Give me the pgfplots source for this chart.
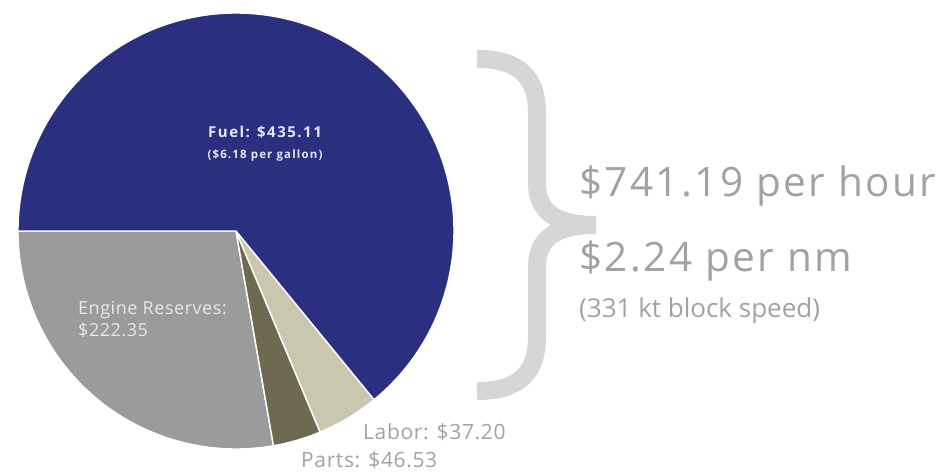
\documentclass[border=0pt]{standalone}
\usepackage{fontspec}
\setmainfont{Open Sans}
\newfontfamily\bigfont[LetterSpace=6]{Open Sans}
\newfontfamily\pielabfont[LetterSpace=10]{Open Sans}
\newfontfamily\labfont[LetterSpace=3]{Open Sans}
\usepackage{pgfplots}
\usepackage{pgfplotstable}
\pgfplotsset{compat=1.18}

\definecolor{fuelc}{HTML}{2B2F7F}
\definecolor{enginec}{HTML}{9B9B9B}
\definecolor{partsc}{HTML}{6D6A50}
\definecolor{laborc}{HTML}{C9C8AF}
\definecolor{bracec}{HTML}{D6D6D6}
\definecolor{textc}{HTML}{A2A2A2}
\definecolor{inlabel}{HTML}{E6E6EE}

% hourly cost per slice; span = wedge angle as drawn (degrees)
\pgfplotstableread{
slice   cost    span
Engine  222.35  99.9
Parts   46.53   12.8
Labor   37.20   16.6
Fuel    435.11  230.7
}\costs

\newcommand\pieslice[3]{%
  \fill[#3, draw=white, line width=1.4bp]
    (axis cs:236,242) -- ++(#1:218bp) arc[start angle=#1, end angle=#2, radius=218bp] -- cycle;}

\begin{document}
\begin{tikzpicture}
% cumulative angles, counter-clockwise from the left
\pgfplotstablegetelem{0}{span}\of\costs
\pgfmathsetmacro\aEngine{180+\pgfplotsretval}
\pgfplotstablegetelem{1}{span}\of\costs
\pgfmathsetmacro\aParts{\aEngine+\pgfplotsretval}
\pgfplotstablegetelem{2}{span}\of\costs
\pgfmathsetmacro\aLabor{\aParts+\pgfplotsretval}
\pgfplotstablegetelem{3}{span}\of\costs
\pgfmathsetmacro\aFuel{\aLabor+\pgfplotsretval}
\begin{axis}[
    width=951bp, height=473bp, scale only axis,
    xmin=0, xmax=951, ymin=0, ymax=473,
    hide axis, clip=false,
]
    \coordinate (ll) at (axis cs:0,0);
    \coordinate (ur) at (axis cs:951,473);
    \pieslice{180}{\aEngine}{enginec}
    \pieslice{\aEngine}{\aParts}{partsc}
    \pieslice{\aParts}{\aLabor}{laborc}
    \pieslice{\aLabor}{\aFuel}{fuelc}

    \node[inlabel, anchor=base, inner sep=0pt, font=\pielabfont\bfseries\fontsize{15bp}{18bp}\selectfont] at (axis cs:265,335) {Fuel: \$435.11};
    \node[inlabel, anchor=base, inner sep=0pt, font=\pielabfont\bfseries\fontsize{11.5bp}{14bp}\selectfont] at (axis cs:265,314) {(\$6.18 per gallon)};
    \node[inlabel, anchor=base west, inner sep=0pt, font=\labfont\fontsize{18bp}{22bp}\selectfont] at (axis cs:78,158) {Engine Reserves:};
    \node[inlabel, anchor=base west, inner sep=0pt, font=\labfont\fontsize{18bp}{22bp}\selectfont] at (axis cs:78,136) {\$222.35};
    \node[textc, anchor=base west, inner sep=0pt, font=\labfont\fontsize{21bp}{24bp}\selectfont] at (axis cs:363,33) {Labor: \$37.20};
    \node[textc, anchor=base west, inner sep=0pt, font=\labfont\fontsize{21bp}{24bp}\selectfont] at (axis cs:301,6) {Parts: \$46.53};

    \draw[bracec, line width=18bp]
      (axis cs:477,414) .. controls (axis cs:520,414) and (axis cs:537,395) .. (axis cs:537,360)
      -- (axis cs:537,290) .. controls (axis cs:537,262) and (axis cs:555,248) .. (axis cs:596,248);
    \draw[bracec, line width=18bp]
      (axis cs:596,248) .. controls (axis cs:555,248) and (axis cs:537,234) .. (axis cs:537,206)
      -- (axis cs:537,136) .. controls (axis cs:537,101) and (axis cs:520,82) .. (axis cs:477,82);

    \node[textc, anchor=base west, inner sep=0pt, font=\bigfont\fontsize{40.5bp}{48bp}\selectfont] at (axis cs:579,276) {\$741.19 per hour};
    \node[textc, anchor=base west, inner sep=0pt, font=\bigfont\fontsize{40.5bp}{48bp}\selectfont] at (axis cs:579,201) {\$2.24 per nm};
    \node[textc, anchor=base west, inner sep=0pt, font=\fontsize{26bp}{30bp}\selectfont] at (axis cs:579,155) {(331 kt block speed)};
\end{axis}
\pgfresetboundingbox
\path (ll) rectangle (ur);
\end{tikzpicture}
\end{document}
